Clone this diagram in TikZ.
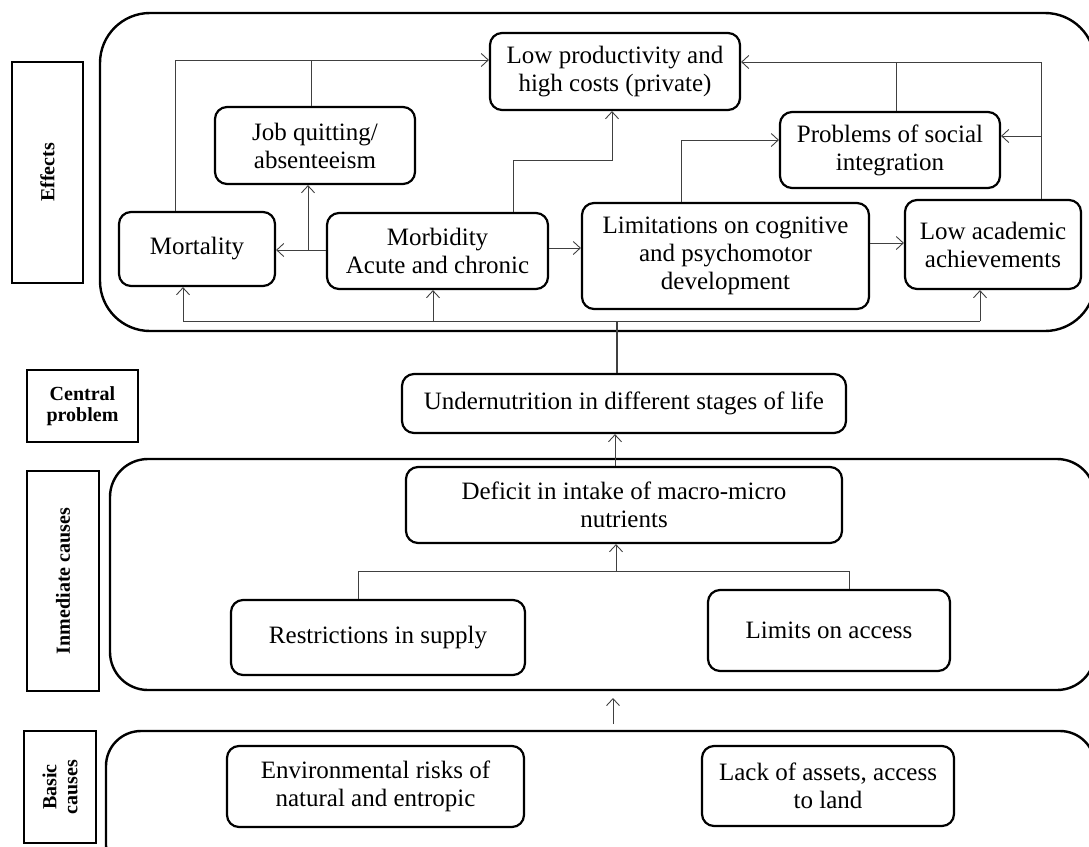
\documentclass[tikz,border=0pt]{standalone}
\usepackage{fontspec}
\setmainfont{Liberation Serif}
\usetikzlibrary{arrows.meta}
\begin{document}
\begin{tikzpicture}[x=1pt,y=-1pt,
  box/.style={draw, line width=2.2pt, rounded corners=12pt, align=center, inner sep=0pt,
    font=\fontsize{25}{28}\selectfont},
  lab/.style={draw, line width=2.6pt, align=center, inner sep=0pt,
    font=\fontsize{20}{21}\selectfont\bfseries},
  outer/.style={draw, line width=2.4pt},
  conn/.style={draw=black!75, line width=0.9pt},
  arr/.style={conn, -{Straight Barb[length=7pt,width=13pt]}}]
\useasboundingbox (0,0) rectangle (1089,846);
\clip (0,0) rectangle (1089,846);

% containers
\draw[outer, rounded corners=50pt] (100,13) rectangle (1095,331);
\draw[outer, rounded corners=38pt] (110,459) rectangle (1095,690);
\draw[outer, rounded corners=35pt] (106,731) rectangle (1095,880);

% side labels
\node[lab, rotate=90, minimum width=221pt, minimum height=71pt] (leff) at (47.5,172.5) {Effects};
\node[lab, minimum width=111pt, minimum height=72pt] (lcent) at (82.5,406) {Central\\problem};
\node[lab, rotate=90, minimum width=220pt, minimum height=72pt] (limm) at (63,581) {Inmediate causes};
\node[lab, rotate=90, minimum width=112pt, minimum height=72pt] (lbas) at (60,787) {Basic\\causes};

% effects
\node[box, minimum width=250pt, minimum height=77pt] (lowp) at (615,71.5) {Low productivity and\\high costs (private)};
\node[box, minimum width=200pt, minimum height=77pt] (job) at (315,145.5) {Job quitting/\\absenteeism};
\node[box, minimum width=156pt, minimum height=74pt] (mort) at (197,249) {Mortality};
\node[box, minimum width=221pt, minimum height=76pt] (morb) at (437.5,251) {Morbidity\\Acute and chronic};
\node[box, minimum width=287pt, minimum height=106pt] (lim) at (725.5,256) {Limitations on cognitive\\and psychomotor\\development};
\node[box, minimum width=220pt, minimum height=76pt] (soc) at (890,150) {Problems of social\\integration};
\node[box, minimum width=176pt, minimum height=89pt] (acad) at (993,244.5) {Low academic\\achievements};

% central
\node[box, minimum width=444pt, minimum height=59pt] (under) at (624,403.5) {Undernutrition in different stages of life};

% immediate
\node[box, minimum width=436pt, minimum height=76pt] (def) at (624,505) {Deficit in intake of macro-micro\\nutrients};
\node[box, minimum width=294pt, minimum height=75pt] (restr) at (378,637.5) {Restrictions in supply};
\node[box, minimum width=242pt, minimum height=81pt] (acc) at (829,630.5) {Limits on access};

% basic
\node[box, minimum width=297pt, minimum height=81pt] (env) at (375.5,786.5) {Environmental risks of\\natural and entropic};
\node[box, minimum width=252pt, minimum height=80pt] (lack) at (828,786) {Lack of assets, access\\to land};

% coordinates
\coordinate (t1) at (175,60);
\coordinate (t2) at (311,60);
\coordinate (j1) at (308,250);
\coordinate (b1) at (513,160);
\coordinate (b2) at (612,160);
\coordinate (m1) at (548,248);
\coordinate (c1) at (681,140);
\coordinate (d1) at (868,243);
\coordinate (e1) at (1041,62);
\coordinate (e2) at (896,62);
\coordinate (e3) at (1041,136);
\coordinate (f1) at (183,321);
\coordinate (f2) at (980,321);
\coordinate (f3) at (433,321);
\coordinate (f4) at (617,321);
\coordinate (g1) at (615,466);
\coordinate (h1) at (358,571);
\coordinate (h2) at (849,571);
\coordinate (h3) at (616,571);
\coordinate (k1) at (613,724);
\coordinate (k2) at (613,698);

% effects connectors
\draw[arr] (mort.north -| t1) -- (t1) -- (lowp.west |- t1);
\draw[conn] (job.north -| t2) -- (t2);
\draw[arr] (morb.west |- j1) -- (mort.east |- j1);
\draw[arr] (j1) -- (j1 |- job.south);
\draw[arr] (morb.north -| b1) -- (b1) -- (b2) -- (b2 |- lowp.south);
\draw[arr] (morb.east |- m1) -- (lim.west |- m1);
\draw[arr] (lim.north -| c1) -- (c1) -- (soc.west |- c1);
\draw[arr] (lim.east |- d1) -- (acad.west |- d1);
\draw[arr] (acad.north -| e1) -- (e1) -- (lowp.east |- e1);
\draw[conn] (soc.north -| e2) -- (e2);
\draw[arr] (e3) -- (soc.east |- e3);

% bus from central problem
\draw[conn] (f1) -- (f2);
\draw[arr] (f1) -- (f1 |- mort.south);
\draw[arr] (f3) -- (f3 |- morb.south);
\draw[arr] (f2) -- (f2 |- acad.south);
\draw[conn, line width=1.6pt] (f4) -- (f4 |- under.north);

% causes
\draw[arr] (g1) -- (g1 |- under.south);
\draw[conn] (restr.north -| h1) -- (h1) -- (h2) -- (h2 |- acc.north);
\draw[arr] (h3) -- (h3 |- def.south);
\draw[arr] (k1) -- (k2);
\end{tikzpicture}
\end{document}
